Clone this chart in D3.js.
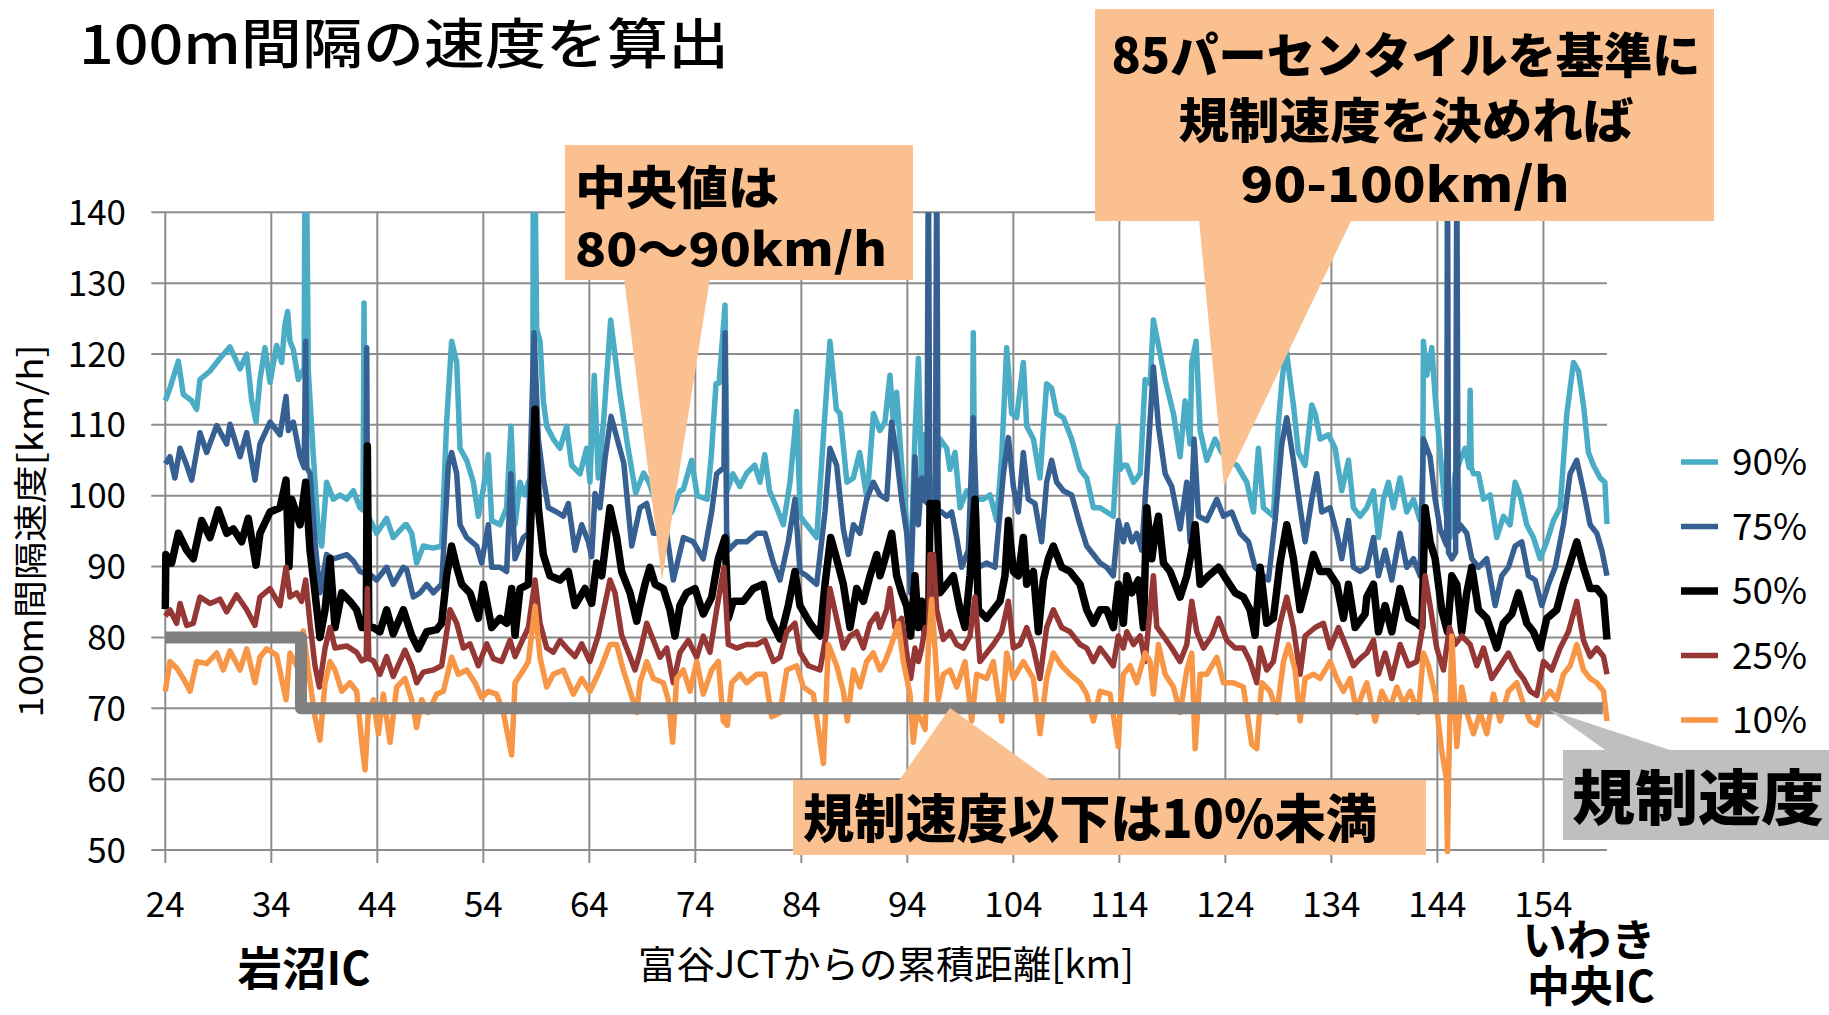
<!DOCTYPE html>
<html>
<head>
<meta charset="utf-8">
<script src="https://cdn.jsdelivr.net/npm/d3@7/dist/d3.min.js"></script>
<style>
  body { margin: 0; background: #fff; }
  text { font-family: "Noto Sans CJK JP", "Noto Sans", sans-serif; }
</style>
</head>
<body>
<div id="chart"></div>
<script>
// km from 富谷JCT, speed km/h
const p90 = [[24,113.4],[24.44,115.2],[25.23,119],[25.7,114.3],[26.49,113.4],[26.96,112.2],[27.27,116.4],[28.22,117.6],[29.16,119.4],[30.1,121],[31.05,117.9],[31.68,120],[32.15,113.4],[32.56,110.4],[32.93,116.4],[33.4,120.9],[33.88,116],[34.5,121.2],[34.98,118.8],[35.29,124.2],[35.54,126],[35.76,121.8],[36.08,120.6],[36.55,116.4],[37.1,118],[37.18,150],[37.3,150],[37.49,117.6],[37.97,105.5],[38.44,94.7],[38.75,92.9],[39.22,101.9],[39.85,99.5],[40.48,100.1],[41.11,99.5],[41.74,100.7],[42.37,98.3],[42.65,98],[42.75,127.2],[42.85,98],[43.15,97.1],[43.94,94.7],[44.88,96.8],[45.5,94.1],[46.61,95.9],
  [46.77,95.9],[47.24,94.7],[47.71,90.5],[48.34,92.9],[49.28,92.6],[50.07,92.9],[50.54,110.4],[51.01,121.8],[51.49,118.8],[51.8,106.7],[52.43,105],[53.06,101.9],[53.53,97.1],[54.0,101],[54.47,105.8],[54.79,96.5],[55.57,95.9],[56.2,98.3],[56.61,109.8],[56.99,95.9],[57.46,101.9],[57.93,100.1],[58.25,101.9],[58.65,103],[58.72,150],[58.85,150],[59.03,123.6],[59.35,121.8],[59.66,113.4],[59.98,109.8],[60.6,108],[61.23,106.7],[61.86,109.8],[62.33,104.3],[63.12,103.1],[63.75,106.7],[64.06,101.9],[64.47,117],[64.85,102.5],
  [65.37,111],[66.01,124.8],[66.87,114.5],[67.62,107],[68.37,100.4],[69.12,103.2],[69.6,102],[70.3,99],[71.0,101],[71.74,97.6],[72.55,100.7],[72.87,100.9],[73.65,105],[74.18,100],[75.11,99.5],[75.5,105.5],[75.95,115.8],[76.24,115.9],[76.8,126.9],[77.0,100.7],[77.55,103.1],[78.2,101.3],[78.86,103.2],[79.6,104.3],[80.1,101.9],[80.55,105.8],[81.0,100.7],[81.67,98.3],[82.3,95.9],[82.93,101.9],[83.56,111.9],[83.9,97.1],[84.5,95.9],[85.45,94.1],[86.2,111],[86.7,121.8],[87.3,112.2],[87.65,111.6],[88.3,101.9],[88.9,102.5],[89.5,106.1],[90.2,99.5],[90.8,111.6],[91.4,109.2],
  [91.89,110.4],[92.36,117],[92.68,110.4],[92.99,114.6],[93.46,104.3],[93.94,95.9],[94.31,89.9],[94.72,108.6],[95.04,119.4],[95.35,101.9],[95.51,108.6],[95.82,99.5],[96.5,101],[97.08,108],[97.71,106.7],[98.02,103.7],[98.5,106.1],[98.97,98.3],[99.6,100.7],[100.1,100],[100.22,123],[100.35,100],[100.54,99.5],[101.17,99.5],[101.8,100.1],[102.43,96.5],[102.9,105.5],[103.37,120.9],[103.84,111.6],[104.31,111],[104.94,118.8],[105.26,109.8],[105.89,108],[106.51,102.5],[107.14,115.8],[107.61,115.2],[108.09,111.6],[108.72,111],[109.5,108],[110.29,103.7],[110.92,102.5],[111.55,98.3],[112.18,98.3],[112.8,97.7],[113.43,97.1],[113.9,109.8],[114.07,103.7],
  [114.38,104.3],[114.7,104.3],[115.33,101.9],[115.96,103.1],[116.43,116.4],[116.9,115.8],[117.21,124.8],[117.69,121.2],[118.32,116.4],[119.1,111.6],[119.73,105.5],[120.2,113.4],[120.67,107.3],[120.83,118.8],[121.24,121.8],[121.62,109.2],[122.25,105],[123.03,108],[123.66,106.1],[124.29,105],[125.08,104.3],[126.02,101.9],[126.65,97.7],[127.12,106.7],[127.59,98.3],[128.53,97.1],[129.01,110.4],[129.32,115.8],[129.7,121],[130.42,112.8],[130.89,106.1],[131.52,104.3],[132.15,112.8],[132.47,111.6],[132.94,108],[133.72,108.6],[134.35,106.7],[134.98,100.7],[135.61,105],[136.08,98.3],[136.71,97.1],
  [137.34,98.3],[137.97,100.7],[138.44,94.1],[138.91,99.5],[139.38,101.9],[139.85,98.3],[140.48,102.5],[141.11,97.7],[141.74,99.5],[142.37,96.5],[142.6,97],[142.68,121.8],[143.0,117],[143.47,120.9],[143.79,114],[144.26,106.1],[144.73,98.3],[145.2,94.1],[145.67,103.1],[146.14,105],[146.62,106.7],[147.0,104],[147.09,114.9],[147.2,104],[147.4,103.1],[147.87,103.1],[148.35,99.5],[148.97,100.1],[149.6,94.1],[150.23,97.1],[150.86,95.9],[151.33,101.9],[151.8,100.1],[152.43,95.9],[153.06,94.1],[153.69,91.1],[154.32,93.5],[154.95,96.5],[155.58,98.3],[156.21,111.6],[156.84,118.8],[157.31,117.6],[157.78,112.8],[158.25,106.1],[158.72,104.3],[159.35,102.5],[159.8,101.9],[160,96]];

const p75 = [[24,104.5],[24.44,105.5],[24.9,102.5],[25.39,106.7],[26.02,104.3],[26.49,102.2],[27.27,108.9],[27.9,106.1],[28.85,109.9],[29.79,107.3],[30.1,110.1],[31.05,105.5],[31.68,108.9],[32.46,102.2],[32.93,107.3],[33.88,110.4],[34.82,108.6],[35.39,114],[35.61,109.2],[36.08,110.4],[36.71,105.5],[37.1,104],[37.24,121.8],[37.35,104],[37.65,103.1],[38.12,93.5],[38.59,86.3],[39.22,91.7],[39.85,91.1],[41.11,91.7],[41.74,90.8],[42.37,89.3],[42.9,89],[43.0,120.9],[43.1,89],[43.47,88.7],[43.94,88.1],[44.88,89.9],[45.5,87.5],[46.46,89.9],
  [46.77,89.6],[47.4,85.7],[48.03,86.3],[48.66,87.5],[49.28,86.3],[50.07,87.5],[50.7,104.3],[51.01,106.1],[51.49,103.1],[51.8,95.9],[52.43,94.1],[53.37,92.9],[53.84,90.5],[54.47,95.9],[54.79,89.9],[55.57,89.9],[56.2,89.3],[56.61,103.1],[56.99,91.1],[57.78,94.1],[58.25,94.7],[58.78,123],[59.19,108],[59.66,102.5],[60.13,98.3],[60.92,97.7],[61.55,97.1],[62.02,98.9],[62.65,92.3],[63.28,95.9],[63.91,93.5],[64.22,91.4],[64.54,100.3],[65.01,98.3],[65.5,105.5],
  [66.05,111.2],[67.25,104.6],[68.0,92.9],[68.78,98.3],[69.41,98.9],[70.04,94.7],[71.3,94.7],[71.92,88.1],[72.87,94.1],[73.81,93.5],[74.75,91.1],[75.54,97.7],[76.01,103.1],[76.7,104],[76.8,123],[76.95,95],[77.11,92.3],[77.9,93.5],[78.84,93.5],[79.79,94.7],[80.57,94.7],[81.36,90.5],[81.99,88.1],[82.77,93.5],[83.4,99.5],[83.87,89.3],[84.5,88.7],[85.45,87.5],[86.23,97.7],[86.7,106.7],[87.33,104.3],[87.96,95.3],[88.43,91.7],[88.91,95.9],[89.53,94.7],[90.16,99.5],[90.79,101.9],[91.42,100.1],
  [92.05,99.5],[92.52,110.4],[92.99,105.5],[93.46,99.5],[93.94,94.7],[94.31,86.3],[94.72,105.5],[95.04,95.9],[95.35,102.5],[95.51,99.5],[95.85,99],[95.98,150],[96.12,99],[96.65,99],[96.77,150],[96.9,98],[97.24,97.7],[97.71,97.1],[98.18,97.7],[98.65,94.1],[99.12,89.9],[99.75,92.3],[100.22,111],[100.7,89.9],[101.48,90.5],[102.27,89.9],[103.06,103.1],[103.53,108.2],[104.0,101.3],[104.47,97.7],[104.94,106.1],[105.41,99.5],[106.04,98.9],[106.67,93.5],[107.14,101.9],[107.61,105],[108.09,101.9],[108.72,100.7],[109.5,100.1],[110.29,95.9],[110.92,92.9],[111.55,91.7],[112.18,90.5],[112.8,89.9],[113.43,88.7],[113.9,96.5],[114.38,93.5],
  [114.7,95.9],[115.17,93.5],[115.64,94.7],[116.11,92.3],[116.59,103.1],[117.21,118.2],[117.69,109.8],[118.32,103.1],[118.94,101.3],[119.73,95.3],[120.36,101.9],[120.67,93.5],[121.05,108],[121.46,97.1],[122.25,96.5],[123.19,99.5],[123.82,97.1],[124.6,97.7],[125.39,94.7],[126.18,93.5],[126.8,89.9],[127.59,88.7],[128.06,88.1],[128.69,96.5],[129.32,107.3],[129.79,111],[130.42,105],[131.05,98.3],[131.52,93.5],[132.15,99.5],[132.62,103.1],[133.09,97.7],[133.88,98.3],[134.51,94.7],[134.98,91.1],[135.61,96.5],[136.08,89.9],[136.71,89.3],
  [137.34,89.9],[137.97,94.1],[138.44,88.7],[139.07,92.3],[139.7,88.1],[140.48,94.7],[141.11,89.9],[141.74,91.1],[142.37,88.7],[142.68,108],[143.31,105.5],[143.79,99.5],[144.26,95.3],[144.73,93.5],[144.88,93],[144.95,150],[145.05,92],[145.36,91.1],[145.72,92],[145.83,150],[145.95,95],[146.14,95.9],[146.77,94.7],[147.25,91.1],[147.87,89.9],[148.66,91.1],[149.45,84.5],[150.07,88.7],[150.7,89.9],[151.33,92.9],[151.96,93.5],[152.59,88.7],[153.22,88.1],[153.85,84.5],[154.48,87.5],[155.11,89.9],[155.89,95.9],[156.52,103.1],[157.15,105],[157.78,100.7],[158.41,95.9],[159.04,94.7],[159.51,92.3],[160,88.7]];

const p50 = [[24,84],[24.05,91.7],[24.6,90.5],[25.23,94.7],[26.02,92.3],[26.64,91.1],[27.43,96.5],[28.22,94.1],[29.0,98],[29.79,94.7],[30.42,95.3],[31.2,93.5],[31.83,96.8],[32.56,90.2],[32.93,94.7],[33.88,97.7],[34.82,98.3],[35.39,102.2],[35.67,90],[35.92,99.5],[36.71,95.9],[37.24,101.9],[37.65,92.3],[38.12,86.3],[38.59,80],[39.07,83.9],[39.54,91.1],[40.01,81.4],[40.64,86.3],[41.42,85.1],[42.05,83.9],[42.53,81.4],[42.95,81.4],[43.06,107],[43.2,81.4],[43.63,81.4],[44.25,80.8],[44.88,83.9],[45.5,80.5],[46.46,83.9],
  [47.24,80.3],[47.87,78.4],[48.66,80.8],[49.6,81.1],[50.07,82],[50.54,88.7],[51.01,92.9],[51.49,89.9],[51.96,87.5],[52.74,86.3],[53.53,82.7],[54.0,87.5],[54.79,81.4],[55.57,82.7],[56.2,82],[56.67,86.9],[56.99,80.3],[57.46,86.9],[58.25,87.5],[58.88,112.2],[59.19,98.3],[59.66,91.7],[60.29,88.7],[61.23,88.1],[62.02,89.3],[62.65,84.5],[63.59,86.9],[64.22,84.8],[64.69,90.5],[65.17,88.7],[65.95,98.3],[66.58,94.1],[67.05,89.3],[67.84,86.3],[68.47,82.3],
  [68.78,84.5],[69.25,87.5],[69.72,89.9],[70.2,87.5],[70.98,86.9],[71.61,83.9],[72.08,80.2],[72.55,84.5],[73.18,86.3],[73.97,86.9],[74.75,83.3],[75.54,85.7],[76.17,91.1],[76.8,94.1],[77.11,82.7],[77.58,85.1],[78.53,85.1],[79.47,86.9],[80.42,87.5],[81.04,82.7],[81.99,79.8],[82.77,84.5],[83.4,89.3],[83.87,84.5],[84.82,82],[85.76,80.2],[86.23,87.5],[86.77,94.1],[87.33,91.1],[87.96,87.5],[88.59,81.4],[89.22,86.9],[89.85,85.1],[90.48,88.7],[91.11,91.7],[91.42,88.7],
  [91.89,91.1],[92.52,94.7],[92.99,88.7],[93.46,86.3],[93.94,84.4],[94.31,80.2],[94.72,88.7],[95.04,81.4],[95.35,85.1],[95.67,80.8],[96.0,80.8],[96.14,98.9],[96.77,98.9],[97.08,86.3],[97.71,87.5],[98.34,88.7],[98.97,83.9],[99.44,81.4],[99.91,88.7],[100.38,99.5],[100.7,83.9],[101.48,82.7],[102.11,83.9],[102.74,85.1],[103.21,88.7],[103.53,96.5],[104.0,89.3],[104.47,88.7],[104.94,94.1],[105.26,87.5],[105.89,89.3],[106.36,80.8],[106.83,88.1],[107.3,91.1],[107.77,92.9],[108.56,89.9],[109.34,89.3],[110.29,87.5],[110.92,83.9],[111.55,82],[112.18,83.9],[112.8,83.9],[113.43,81.4],[113.9,87.5],[114.38,82],
  [114.7,88.7],[115.17,86.3],[115.8,88.1],[116.27,81.4],[116.59,98.3],[117.06,91.1],[117.37,94.7],[117.69,97.1],[118.16,90.5],[118.79,89.3],[119.73,85.7],[120.36,88.7],[120.83,92.3],[121.15,95.9],[121.62,87.5],[122.4,88.7],[123.35,89.9],[124.13,88.1],[124.92,86.3],[125.7,85.7],[126.33,83.9],[126.8,80.3],[127.28,89.9],[127.9,82],[128.53,82.7],[129.16,90.5],[129.79,95.9],[130.42,91.1],[131.05,83.9],[131.68,87.5],[132.31,91.7],[132.94,89.3],[133.72,89.3],[134.51,87.5],[135.14,82.7],[135.61,87.5],[136.24,81.4],[137.18,83.3],
  [137.34,85.7],[137.97,87.5],[138.44,80.8],[139.07,84.5],[139.7,80.8],[140.48,86.9],[141.27,82.7],[142.06,82],[142.53,81.4],[142.84,98.3],[143.31,93.5],[143.79,91.1],[144.41,83.9],[144.95,80.8],[145.36,88.7],[145.83,87.5],[146.3,80.8],[146.77,86.3],[147.25,89.9],[147.87,83.9],[148.66,82.7],[149.6,78.5],[150.23,82],[151.02,83.3],[151.65,86.3],[152.43,82],[153.06,80.8],[153.69,78.5],[154.32,82.7],[155.26,83.9],[155.89,87.5],[156.52,90.5],[157.15,93.5],[157.78,89.9],[158.41,86.9],[159.04,86.9],[159.67,85.7],[160,79.7]];

const p25 = [[24,83],[24.44,83.9],[25.07,82],[25.39,84.8],[26.02,81.7],[26.64,82],[27.27,85.7],[28.22,84.8],[29.16,85.4],[29.79,83.6],[30.73,86],[31.68,83.9],[32.46,81.7],[32.93,85.7],[33.88,86.9],[34.82,84.5],[35.39,89.9],[35.76,85.7],[36.39,86.3],[36.86,85.1],[37.24,88.1],[37.65,82],[38.12,76],[38.53,73],[39.07,78.5],[39.54,81.4],[40.01,78.5],[41.11,78.8],[42.05,77.9],[42.53,76.7],[42.95,77],[43.06,86.9],[43.2,77],[43.63,76.7],[44.25,74.8],[44.88,77.3],[45.5,74.5],[46.61,78.2],
  [47.24,76],[47.71,73.6],[48.34,75.1],[49.28,75.4],[50.07,76],[50.86,83.9],[51.49,82],[52.11,78.5],[52.74,79.1],[53.53,76],[54.32,79.1],[54.95,77],[55.73,76.6],[56.52,79.6],[56.99,77.3],[57.78,79.9],[58.25,81.4],[58.88,88.1],[59.35,82],[59.98,78.5],[60.6,77.9],[61.23,79.6],[61.86,78.5],[62.65,77.3],[63.28,79.1],[64.06,76.6],[64.85,80.3],[65.95,88.1],[66.42,86.3],[67.05,80.3],[67.68,77.9],[68.31,75.4],
  [68.78,77.9],[69.41,82],[70.04,79.6],[70.67,77.2],[71.3,78.5],[71.92,73.6],[72.55,77.9],[73.34,79.6],[74.13,77.2],[74.75,80.2],[75.38,77.9],[76.01,83.9],[76.7,89.9],[77.11,79],[77.9,78.5],[78.84,79],[79.79,79],[80.57,79.6],[81.36,76.6],[81.99,77.2],[82.62,80.8],[83.4,82],[83.87,77.9],[84.66,76],[85.76,75.4],[86.39,80.8],[86.7,86.9],[87.33,82.7],[87.96,78.5],[88.59,80.2],[89.22,80.8],[89.85,78.5],[90.48,82],[91.11,83.3],[91.42,81.4],
  [92.05,83.9],[92.36,86.9],[92.83,81.4],[93.46,82.7],[93.94,77.8],[94.31,74.2],[94.72,78.5],[95.04,76.6],[95.35,78.5],[95.67,81.4],[96.0,81],[96.14,91.7],[96.45,91.7],[96.77,83.9],[97.4,79.7],[98.02,80.8],[98.65,79],[99.28,78.5],[99.91,80.2],[100.38,85.7],[100.85,76.6],[101.48,77.8],[102.11,79],[102.9,80.8],[103.53,85.1],[104.0,78.5],[104.63,79],[105.26,81.4],[105.89,78.5],[106.51,74.2],[107.14,81.4],[107.77,83.9],[108.56,81.4],[109.34,80.8],[110.29,79],[110.92,78.5],[111.55,76.6],[112.18,78.5],[112.8,77.3],[113.43,76],[113.9,80.2],[114.38,78.5],
  [114.7,80.8],[115.33,79],[115.96,80.2],[116.43,76.6],[116.9,83.9],[117.21,88.7],[117.53,81.5],[118.16,80.2],[118.94,78.5],[119.73,76.6],[120.36,79],[120.83,85.1],[121.3,80.8],[121.93,78.5],[122.72,80.2],[123.35,82.7],[124.13,79.6],[124.92,78.5],[125.7,78.5],[126.33,76.6],[126.96,73.6],[127.28,78.5],[127.9,75.4],[128.53,76.6],[129.16,82],[129.79,85.7],[130.42,81.4],[131.05,74.8],[131.52,80.2],[132.47,81.4],[133.25,82],[133.88,78.5],[134.67,81.4],[135.45,78.5],[136.08,76],[136.71,77],
  [137.34,77.8],[137.97,79.6],[138.44,74.8],[139.07,77.8],[139.7,74.2],[140.48,79],[141.27,76],[142.06,76.6],[142.53,80.8],[142.84,88.7],[143.31,84.5],[143.94,78.5],[144.57,75.4],[145.14,81.4],[145.67,79],[146.3,80.2],[147.09,79],[147.72,76],[148.35,78.5],[149.13,74.2],[149.92,76],[150.7,77.8],[151.49,75.4],[152.12,74.2],[152.75,72.4],[153.38,71.8],[154.01,76.6],[154.79,75.4],[155.58,78.5],[156.36,80.8],[157.15,85.1],[157.78,79.6],[158.41,77.3],[159.04,78.5],[159.67,77.3],[160,74.8]];

const p10 = [[24,72.4],[24.44,76.6],[25.07,75.7],[25.7,74.2],[26.33,72.4],[26.96,76.6],[27.9,76.3],[28.85,77.8],[29.47,75.4],[30.1,78.1],[31.05,75.4],[31.68,78.4],[32.46,73.6],[32.93,77.2],[33.56,78.4],[34.5,77.5],[35.39,71.2],[35.76,77.8],[36.39,76],[37.02,80.9],[37.49,75.4],[38.12,68.8],[38.59,65.5],[39.07,73.6],[39.54,76.6],[40.01,75.4],[40.64,72.4],[41.42,73.6],[42.05,72.4],[42.53,65.2],[42.84,61.3],[43.15,69.4],[43.63,71.2],[44.1,66.4],[44.57,72],[45.2,65.2],[45.83,73],[46.61,74.2],
  [47.24,71.2],[47.71,67.3],[48.18,71.2],[48.81,69.4],[49.6,72],[50.23,72.4],[51.01,77.2],[51.64,74.8],[52.43,75.4],[53.22,73.6],[53.84,71.5],[54.47,72.4],[55.26,72],[55.89,69.4],[56.67,63.4],[56.99,73.6],[57.78,75.4],[58.25,76.6],[58.88,84.4],[59.35,77.2],[59.98,73],[60.6,74.8],[61.55,75.4],[62.49,72],[63.28,74.2],[64.06,72.4],[65.01,75.4],[65.95,79],[66.58,79],[67.2,75.4],[67.84,72.4],[68.47,69.4],
  [68.78,73.6],[69.41,76.6],[70.04,74.2],[70.98,73.6],[71.45,71.2],[71.86,65.2],[72.24,74.2],[72.87,75.4],[73.5,72.4],[74.13,76.6],[74.75,72],[75.54,75.4],[76.17,76.6],[76.64,68.2],[77.02,67.6],[77.43,73.6],[78.21,74.8],[78.84,73.6],[79.79,74.8],[80.57,74.8],[81.2,68.8],[81.99,69.4],[82.62,75.4],[83.56,76],[84.19,73],[85.13,72],[86.08,62.2],[86.55,79],[87.33,76],[87.96,72.4],[88.34,68.2],[88.91,75.4],[89.53,73],[90.16,76.6],[90.79,77.8],[91.42,75.4],
  [91.89,76.6],[92.36,78.4],[93.15,82],[93.62,76.6],[94.25,72],[94.56,65.2],[94.88,69.4],[95.35,68.2],[95.67,67],[95.98,78.4],[96.29,85.4],[96.61,78.4],[96.92,71.2],[97.4,74.8],[98.02,75.4],[98.65,73],[99.44,76.6],[100.07,68.2],[100.54,74.8],[101.48,74.2],[102.11,76.6],[102.9,68.2],[103.37,77.8],[104.0,74.2],[104.94,76.6],[105.89,74.2],[106.51,66.4],[107.14,74.2],[107.77,77.8],[108.56,76],[109.34,74.8],[110.29,73.6],[110.92,72],[111.55,68.2],[112.18,72.4],[113.12,72],[113.9,64.6],[114.07,70],
  [114.38,74.8],[115.01,76],[115.64,73.6],[116.43,77.8],[116.9,76.6],[117.21,72],[117.69,79],[118.32,74.8],[119.1,73],[119.73,69.4],[120.36,75.4],[120.83,77.8],[121.15,64.3],[121.62,74.8],[122.25,74.8],[123.19,77.2],[123.82,73.6],[124.76,73.6],[125.7,73],[126.49,64.9],[126.96,64.3],[127.43,73.6],[128.22,72.4],[128.85,69.4],[129.48,76.6],[129.95,79],[130.58,75.4],[131.05,68.2],[131.52,74.2],[132.31,74.8],[132.94,74.2],[133.88,76.6],[134.51,74.2],[135.14,72.4],[135.77,74.2],[136.4,69.4],[136.71,71.2],
  [137.34,73.6],[138.13,68.2],[138.75,72.4],[139.54,70],[140.17,73],[140.8,70.6],[141.43,72.4],[142.21,69.4],[142.68,77.8],[143.16,76],[143.79,72],[144.41,64],[144.85,60],[144.95,49.8],[145.05,60],[145.36,80.2],[145.83,64.6],[146.3,73],[146.77,69.4],[147.4,66.4],[148.03,69.4],[148.66,66.4],[149.29,72],[149.92,68.2],[150.7,72.4],[151.49,73.6],[152.12,70.6],[152.75,68.2],[153.38,67.6],[154.01,71.2],[154.63,72.4],[155.26,71.2],[155.89,74.8],[156.52,76],[157.15,79],[157.78,75.4],[158.41,74.2],[159.04,73.6],[159.67,72.4],[160,68.2]];

// 規制速度 (speed limit)
const limitKm = [24, 36.8, 36.8, 159.6];
const limitV = [80, 80, 70, 70];

const seriesNames = ['90%', '75%', '50%', '25%', '10%'];
const seriesColors = ['#4BACC6', '#376092', '#000000', '#953735', '#F79646'];
const seriesWidths = [5.5, 5.5, 7.5, 5.5, 5.5];
const seriesData = [p90, p75, p50, p25, p10];

const xTicks = [24, 34, 44, 54, 64, 74, 84, 94, 104, 114, 124, 134, 144, 154];
const yTicks = [50, 60, 70, 80, 90, 100, 110, 120, 130, 140];

const W = 1829, H = 1015;
const plot = {left: 165.3, right: 1607, top: 212.3, bottom: 850};

const svg = d3.select('#chart').append('svg')
  .attr('width', W).attr('height', H)
  .style('display', 'block');
svg.append('rect').attr('width', W).attr('height', H).attr('fill', '#fff');

const x = d3.scaleLinear().domain([24, 160]).range([plot.left, plot.right]);
const y = d3.scaleLinear().domain([50, 140]).range([plot.bottom, plot.top]);

// grid
const grid = svg.append('g').attr('stroke', '#8c8c8c').attr('stroke-width', 2);
grid.selectAll('.hg').data(yTicks).enter().append('line')
  .attr('x1', plot.left - 14).attr('x2', plot.right)
  .attr('y1', d => y(d)).attr('y2', d => y(d));
grid.selectAll('.vg').data(xTicks).enter().append('line')
  .attr('x1', d => x(d)).attr('x2', d => x(d))
  .attr('y1', plot.top).attr('y2', plot.bottom + 13);

// tick labels
svg.append('g').selectAll('text').data(yTicks).enter().append('text')
  .attr('x', 126).attr('y', d => y(d)).attr('dy', '0.36em')
  .attr('text-anchor', 'end').attr('font-size', 35).attr('fill', '#000')
  .text(d => d);
svg.append('g').selectAll('text').data(xTicks).enter().append('text')
  .attr('x', d => x(d)).attr('y', 917)
  .attr('text-anchor', 'middle').attr('font-size', 35).attr('fill', '#000')
  .text(d => d);

// lines
svg.append('clipPath').attr('id', 'clip').append('rect')
  .attr('x', plot.left - 10).attr('y', plot.top)
  .attr('width', plot.right - plot.left + 20).attr('height', plot.bottom - plot.top + 30);

const line = d3.line().x(d => x(d[0])).y(d => y(d[1]));
const lines = svg.append('g').attr('clip-path', 'url(#clip)');
seriesData.forEach((s, i) => {
  lines.append('path')
    .datum(s)
    .attr('fill', 'none')
    .attr('stroke', seriesColors[i])
    .attr('stroke-width', seriesWidths[i])
    .attr('stroke-linejoin', 'round')
    .attr('d', line);
});

const limitPts = limitKm.map((k, i) => [k, limitV[i]]);
svg.append('path').datum(limitPts)
  .attr('fill', 'none').attr('stroke', '#808080').attr('stroke-width', 12)
  .attr('stroke-linejoin', 'round')
  .attr('d', line);

// legend
const legend = svg.append('g');
seriesNames.forEach((n, i) => {
  const ly = 462 + i * 64.5;
  legend.append('line')
    .attr('x1', 1681).attr('x2', 1718).attr('y1', ly).attr('y2', ly)
    .attr('stroke', seriesColors[i]).attr('stroke-width', seriesWidths[i]);
  legend.append('text')
    .attr('x', 1732).attr('y', ly).attr('dy', '0.36em')
    .attr('font-size', 37).attr('fill', '#000')
    .text(n);
});

// text helper
const addText = (g, str, opts) => {
  const t = g.append('text')
    .attr('x', opts.x).attr('y', opts.y)
    .attr('font-size', opts.size)
    .attr('font-weight', opts.weight || 'normal')
    .attr('text-anchor', opts.anchor || 'start')
    .attr('fill', '#000')
    .text(str);
  if (opts.len) t.attr('textLength', opts.len).attr('lengthAdjust', 'spacingAndGlyphs');
  if (opts.rotate) t.attr('transform', `rotate(${opts.rotate},${opts.x},${opts.y})`);
  return t;
};

// callouts
const callouts = svg.append('g');
const orange = '#FAC090';
callouts.append('path')
  .attr('d', 'M624,278 L710,278 L662,580 Z').attr('fill', orange);
callouts.append('rect').attr('x', 565).attr('y', 145).attr('width', 348).attr('height', 135).attr('fill', orange);
addText(callouts, '中央値は', {x: 575, y: 204, size: 46, weight: 900, len: 204});
addText(callouts, '80～90km/h', {x: 575, y: 266, size: 46, weight: 900, len: 312});

callouts.append('path')
  .attr('d', 'M1199,219 L1352,219 L1224,486 Z').attr('fill', orange);
callouts.append('rect').attr('x', 1095).attr('y', 9).attr('width', 619).attr('height', 212).attr('fill', orange);
addText(callouts, '85パーセンタイルを基準に', {x: 1406, y: 73, size: 48, weight: 900, anchor: 'middle', len: 589});
addText(callouts, '規制速度を決めれば', {x: 1406, y: 138, size: 48, weight: 900, anchor: 'middle', len: 455});
addText(callouts, '90-100km/h', {x: 1405, y: 202, size: 48, weight: 900, anchor: 'middle', len: 329});

callouts.append('path')
  .attr('d', 'M898,782 L1053,782 L950,708 Z').attr('fill', orange);
callouts.append('rect').attr('x', 793).attr('y', 780).attr('width', 633).attr('height', 75).attr('fill', orange);
addText(callouts, '規制速度以下は10%未満', {x: 803, y: 838, size: 52, weight: 900, len: 574});

callouts.append('path')
  .attr('d', 'M1549,710 L1608,752 L1676,752 Z').attr('fill', '#BFBFBF');
callouts.append('rect').attr('x', 1563).attr('y', 750).attr('width', 270).attr('height', 90).attr('fill', '#BFBFBF');
addText(callouts, '規制速度', {x: 1572, y: 820, size: 60, weight: 900, len: 252});

// titles and labels
addText(svg, '100m間隔の速度を算出', {x: 79, y: 64, size: 54, weight: 500, len: 650});
addText(svg, '100m間隔速度[km/h]', {x: 43, y: 531, size: 34, anchor: 'middle', len: 373, rotate: -90});
addText(svg, '富谷JCTからの累積距離[km]', {x: 886, y: 978, size: 38, anchor: 'middle', len: 496});
addText(svg, '岩沼IC', {x: 304, y: 985, size: 46, weight: 'bold', anchor: 'middle', len: 133});

// いわき中央IC, two lines in one text
const iwaki = svg.append('text')
  .attr('font-size', 43).attr('font-weight', 'bold')
  .attr('text-anchor', 'middle').attr('fill', '#000');
iwaki.append('tspan').attr('x', 1589).attr('y', 956)
  .attr('textLength', 133).attr('lengthAdjust', 'spacingAndGlyphs').text('いわき');
iwaki.append('tspan').attr('x', 1591).attr('y', 1002)
  .attr('textLength', 128).attr('lengthAdjust', 'spacingAndGlyphs').text('中央IC');
</script>
</body>
</html>
